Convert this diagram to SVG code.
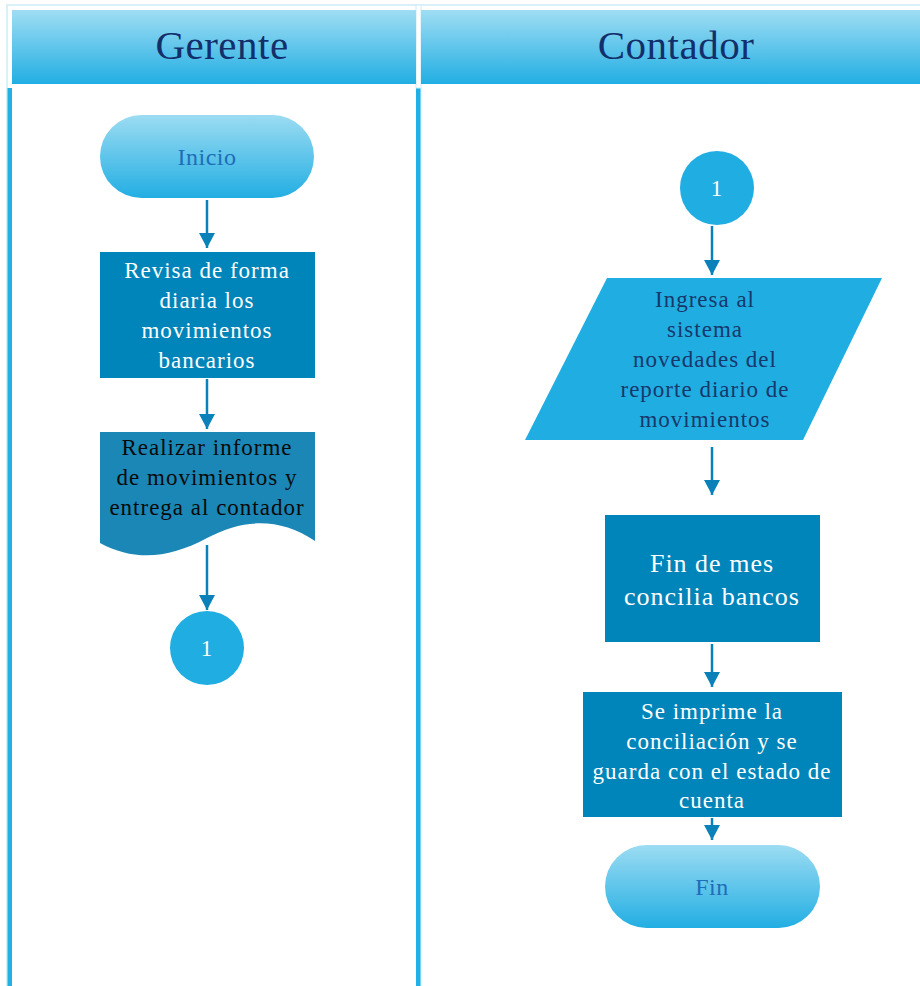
<svg xmlns="http://www.w3.org/2000/svg" width="920" height="986" viewBox="0 0 920 986">
  <defs>
    <linearGradient id="headGrad" x1="0" y1="0" x2="0" y2="1">
      <stop offset="0" stop-color="#9FDDF3"/>
      <stop offset="1" stop-color="#22AEE3"/>
    </linearGradient>
    <linearGradient id="pillGrad" x1="0" y1="0" x2="0" y2="1">
      <stop offset="0" stop-color="#9CDCF2"/>
      <stop offset="1" stop-color="#22AEE3"/>
    </linearGradient>
    <marker id="arrow" markerUnits="userSpaceOnUse" markerWidth="18" markerHeight="16" refX="15" refY="8" orient="auto">
      <path d="M0,0 L15,8 L0,16 Z" fill="#0A82B9"/>
    </marker>
    <style>
      text { font-family: "Liberation Serif", "DejaVu Serif", "Times New Roman", serif; text-anchor: middle; }
      .lane { fill: #21B0E6; }
      .head { fill: url(#headGrad); }
      .headtxt { font-size: 41px; fill: #132F6B; letter-spacing: 0.5px; }
      .pill { fill: url(#pillGrad); }
      .pilltxt { font-size: 24px; fill: #1E6EB7; letter-spacing: 0.5px; }
      .proc { fill: #0085BA; }
      .doc { fill: #1A87B6; }
      .io { fill: #20ADE2; }
      .conn { fill: #1FADE2; }
      .wtxt { font-size: 23px; fill: #FFFFFF; letter-spacing: 1px; }
      .btxt { font-size: 23px; fill: #0A0A0A; letter-spacing: 1px; }
      .ntxt { font-size: 23px; fill: #17386B; letter-spacing: 1px; }
      .edge { stroke: #0A82B9; stroke-width: 2.5; fill: none; marker-end: url(#arrow); }
    </style>
  </defs>

  <rect width="920" height="986" fill="#FFFFFF"/>

  <!-- swimlane frame -->
  <g id="lanes">
    <path d="M7,986 V5 H920" fill="none" stroke="#CDEBF7" stroke-width="1.5"/>
    <rect class="lane" x="7.5" y="88" width="4.5" height="898"/>
    <rect class="lane" x="416" y="88" width="4" height="898"/>
    <rect x="420" y="88" width="1.2" height="898" fill="#7FD0EF"/>
    <rect x="416" y="5" width="5" height="83" fill="#FFFFFF" stroke="#CDEBF7" stroke-width="1"/>
    <g id="lane-gerente">
      <rect class="head" x="12" y="10" width="404" height="74"/>
      <text class="headtxt" x="222" y="59" font-family="Liberation Serif, serif">Gerente</text>
    </g>
    <g id="lane-contador">
      <rect class="head" x="421" y="10" width="499" height="74"/>
      <text class="headtxt" x="676" y="59" font-family="Liberation Serif, serif">Contador</text>
    </g>
  </g>

  <!-- connectors -->
  <g id="connectors">
    <line class="edge" x1="207" y1="200" x2="207" y2="248"/>
    <line class="edge" x1="207" y1="379" x2="207" y2="429"/>
    <line class="edge" x1="207" y1="545" x2="207" y2="610"/>
    <line class="edge" x1="712" y1="226" x2="712" y2="275"/>
    <line class="edge" x1="712" y1="447" x2="712" y2="495"/>
    <line class="edge" x1="712" y1="644" x2="712" y2="687"/>
    <line class="edge" x1="712" y1="818" x2="712" y2="840"/>
  </g>

  <!-- Gerente lane -->
  <g id="inicio">
    <rect class="pill" x="100" y="115" width="214" height="83" rx="41.5"/>
    <text class="pilltxt" x="207" y="165">Inicio</text>
  </g>

  <g id="revisa">
    <rect class="proc" x="100" y="252" width="215" height="126"/>
    <text class="wtxt" x="207" y="278">Revisa de forma</text>
    <text class="wtxt" x="207" y="308">diaria los</text>
    <text class="wtxt" x="207" y="338">movimientos</text>
    <text class="wtxt" x="207" y="368">bancarios</text>
  </g>

  <g id="informe">
    <path class="doc" d="M100,432 H315 V541 C280,518 245,518 207,538 C170,558 135,562 100,543 Z"/>
    <text class="btxt" x="207" y="455">Realizar informe</text>
    <text class="btxt" x="207" y="485">de movimientos y</text>
    <text class="btxt" x="207" y="515">entrega al contador</text>
  </g>

  <g id="conector-g">
    <circle class="conn" cx="207" cy="648" r="37"/>
    <text class="wtxt" x="207" y="656">1</text>
  </g>

  <!-- Contador lane -->
  <g id="conector-c">
    <circle class="conn" cx="717" cy="188" r="37"/>
    <text class="wtxt" x="717" y="196">1</text>
  </g>

  <g id="ingresa">
    <polygon class="io" points="607,278 882,278 803,440 525,440"/>
    <text class="ntxt" x="705" y="307">Ingresa al</text>
    <text class="ntxt" x="705" y="337">sistema</text>
    <text class="ntxt" x="705" y="367">novedades del</text>
    <text class="ntxt" x="705" y="397">reporte diario de</text>
    <text class="ntxt" x="705" y="427">movimientos</text>
  </g>

  <g id="concilia">
    <rect class="proc" x="605" y="515" width="215" height="127"/>
    <text class="wtxt" x="712" y="572" style="font-size:26px">Fin de mes</text>
    <text class="wtxt" x="712" y="605" style="font-size:26px">concilia bancos</text>
  </g>

  <g id="imprime">
    <rect class="proc" x="583" y="692" width="259" height="125"/>
    <text class="wtxt" x="712" y="719">Se imprime la</text>
    <text class="wtxt" x="712" y="749">conciliación y se</text>
    <text class="wtxt" x="712" y="779">guarda con el estado de</text>
    <text class="wtxt" x="712" y="808">cuenta</text>
  </g>

  <g id="fin">
    <rect class="pill" x="605" y="845" width="215" height="83" rx="41.5"/>
    <text class="pilltxt" x="712" y="895">Fin</text>
  </g>
</svg>
